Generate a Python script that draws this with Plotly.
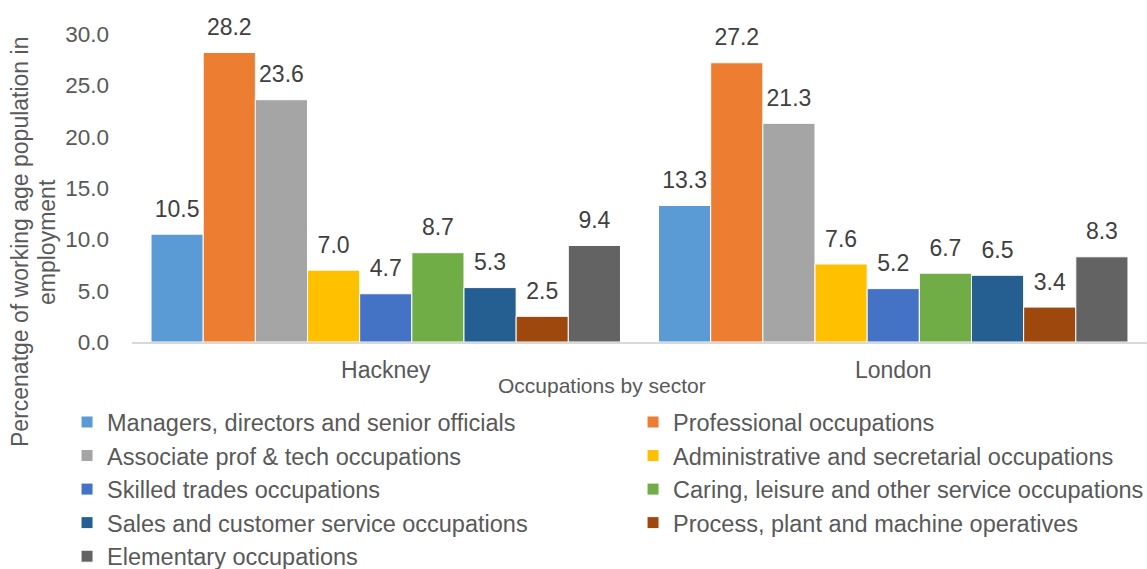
import plotly.graph_objects as go

areas = ["Hackney", "London"]
occupations = [
    "Managers, directors and senior officials",
    "Professional occupations",
    "Associate prof & tech occupations",
    "Administrative and secretarial occupations",
    "Skilled trades occupations",
    "Caring, leisure and other service occupations",
    "Sales and customer service occupations",
    "Process, plant and machine operatives",
    "Elementary occupations",
]
hackney = [10.5, 28.2, 23.6, 7.0, 4.7, 8.7, 5.3, 2.5, 9.4]
london = [13.3, 27.2, 21.3, 7.6, 5.2, 6.7, 6.5, 3.4, 8.3]
colors = ["#5B9BD5", "#ED7D31", "#A5A5A5", "#FFC000", "#4472C4",
          "#70AD47", "#255E91", "#9E480E", "#636363"]
y_ticks = [0, 5, 10, 15, 20, 25, 30]
y_title = ["Percenatge of working age population in", "employment"]
x_title = "Occupations by sector"

FONT = "Liberation Sans, Arial, sans-serif"
GAP = 0.075

fig = go.Figure()
for name, h, l, c in zip(occupations, hackney, london, colors):
    fig.add_trace(go.Bar(
        name=name,
        x=areas,
        y=[h, l],
        marker=dict(color=c, line=dict(color="white", width=1)),
    ))

# value labels, grouped the same way as the bars so each sits over its bar
for name, h, l in zip(occupations, hackney, london):
    fig.add_trace(go.Scatter(
        x=areas,
        y=[h, l],
        mode="markers+text",
        marker=dict(size=17, opacity=0),
        text=[f"{h:.1f}", f"{l:.1f}"],
        textposition="top center",
        textfont=dict(family=FONT, size=23, color="#404040"),
        showlegend=False,
        hoverinfo="skip",
        cliponaxis=False,
    ))

fig.update_layout(
    width=1147, height=569,
    margin=dict(l=132, r=0, t=34, b=227, autoexpand=False),
    paper_bgcolor="white", plot_bgcolor="white",
    barmode="group", bargap=GAP, bargroupgap=0,
    scattermode="group", scattergap=GAP,
    font=dict(family=FONT, color="#595959"),
    xaxis=dict(
        showline=True, linecolor="#D9D9D9", linewidth=2,
        ticks="", tickfont=dict(size=23, color="#595959"),
        ticklabelstandoff=6,
    ),
    yaxis=dict(
        range=[0, 30], tickvals=y_ticks, tickformat=".1f",
        showgrid=False, zeroline=False, showline=False,
        tickfont=dict(size=22.5, color="#595959"), ticks="", ticklabelstandoff=22,
    ),
    legend=dict(
        orientation="h", xref="paper", yref="paper",
        x=-0.064, y=-0.189, xanchor="left", yanchor="top",
        entrywidth=521, entrywidthmode="pixels",
        font=dict(size=23.5, color="#595959"),
        itemwidth=30,
    ),
    showlegend=True,
)

# axis titles
fig.add_annotation(
    text=y_title[0], textangle=-90, xref="paper", yref="paper",
    x=(20 - 132) / 1015, y=(342 - 242) / 308, xanchor="center", yanchor="middle",
    showarrow=False, font=dict(size=23, color="#595959"),
)
fig.add_annotation(
    text=y_title[1], textangle=-90, xref="paper", yref="paper",
    x=(47 - 132) / 1015, y=(342 - 242) / 308, xanchor="center", yanchor="middle",
    showarrow=False, font=dict(size=23, color="#595959"),
)
fig.add_annotation(
    text=x_title, xref="paper", yref="paper",
    x=(602 - 132) / 1015, y=(342 - 385) / 308, xanchor="center", yanchor="middle",
    showarrow=False, font=dict(size=21, color="#595959"),
)

fig.write_html("out.html")
